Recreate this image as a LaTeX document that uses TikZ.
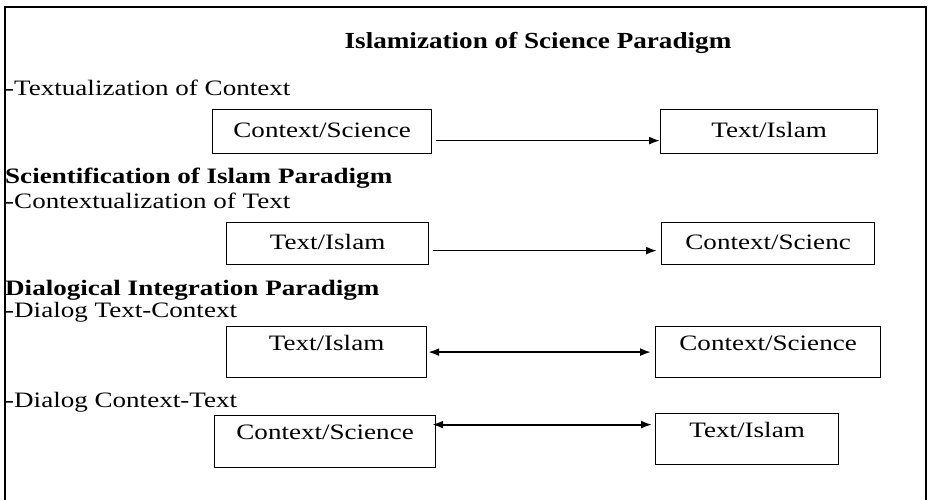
\documentclass[tikz,border=0pt]{standalone}
\usepackage{graphicx}
\usepackage{fontspec}
\setmainfont{Liberation Serif}
\usetikzlibrary{arrows.meta}
\newcommand{\wide}[1]{\scalebox{1.23}[1]{#1}}

\begin{document}
\begin{tikzpicture}[x=1pt, y=1pt,
    every node/.style={font=\fontsize{22}{26}\selectfont},
    head/.style={anchor=west, inner sep=0pt, font=\bfseries\fontsize{22}{26}\selectfont},
    sub/.style={anchor=west, inner sep=0pt},
    box/.style={draw, line width=1.2pt, inner sep=0pt, anchor=north west,
	text height=16pt, text depth=5pt},
    upper/.style={text depth=20pt},
    link/.style={line width=1.8pt, -{Latex[length=11pt,width=8pt]}},
    dlink/.style={line width=1.8pt, {Latex[length=11pt,width=8pt]}-{Latex[length=11pt,width=8pt]}}]
    \useasboundingbox (0,0) rectangle (930,-500);
    \draw[line width=1.8pt] (5,-502) -- (5,-7) -- (926,-7) -- (926,-502);
    \node[font=\bfseries\fontsize{23}{27}\selectfont] (title) at (538,-43)
	{\scalebox{1.18}[1]{Islamization of Science Paradigm}};
    % textualization
    \node[sub] (t1) at (5,-88) {\wide{-Textualization of Context}};
    \node[box, minimum width=219pt, minimum height=44pt] (a1) at (212,-109) {\wide{Context/Science}};
    \node[box, minimum width=217pt, minimum height=44pt] (b1) at (660,-109) {\wide{Text/Islam}};
    \coordinate (s1) at ([xshift=4pt,yshift=-9pt]a1.east);
    \draw[link] (s1) -- (s1 -| b1.west);
    % contextualization
    \node[head] (h2) at (5,-178) {\wide{Scientification of Islam Paradigm}};
    \node[sub] (t2) at (5,-201) {\wide{-Contextualization of Text}};
    \node[box, minimum width=202pt, minimum height=42pt] (a2) at (226,-222) {\wide{Text/Islam}};
    \node[box, minimum width=213pt, minimum height=42pt] (b2) at (661,-222) {\wide{Context/Scienc}};
    \coordinate (s2) at ([xshift=4pt,yshift=-7pt]a2.east);
    \draw[link, shorten >=4pt] (s2) -- (s2 -| b2.west);
    % dialog
    \node[head] (h3) at (5,-290) {\wide{Dialogical Integration Paradigm}};
    \node[sub] (t3) at (5,-312) {\wide{-Dialog Text-Context}};
    \node[box, upper, minimum width=200pt, minimum height=51pt] (a3) at (226,-326) {\wide{Text/Islam}};
    \node[box, upper, minimum width=225pt, minimum height=51pt] (b3) at (655,-326) {\wide{Context/Science}};
    \coordinate (s3) at ([xshift=1pt]a3.east);
    \draw[dlink, shorten >=4pt] (s3) -- (s3 -| b3.west);
    \node[sub] (t4) at (5,-402) {\wide{-Dialog Context-Text}};
    \node[box, upper, minimum width=221pt, minimum height=52pt] (a4) at (214,-415) {\wide{Context/Science}};
    \node[box, upper, minimum width=183pt, minimum height=51pt] (b4) at (655,-413) {\wide{Text/Islam}};
    \coordinate (s4) at ([xshift=-4pt,yshift=17pt]a4.east);
    \draw[dlink, shorten >=3pt] (s4) -- (s4 -| b4.west);
\end{tikzpicture}
\end{document}
